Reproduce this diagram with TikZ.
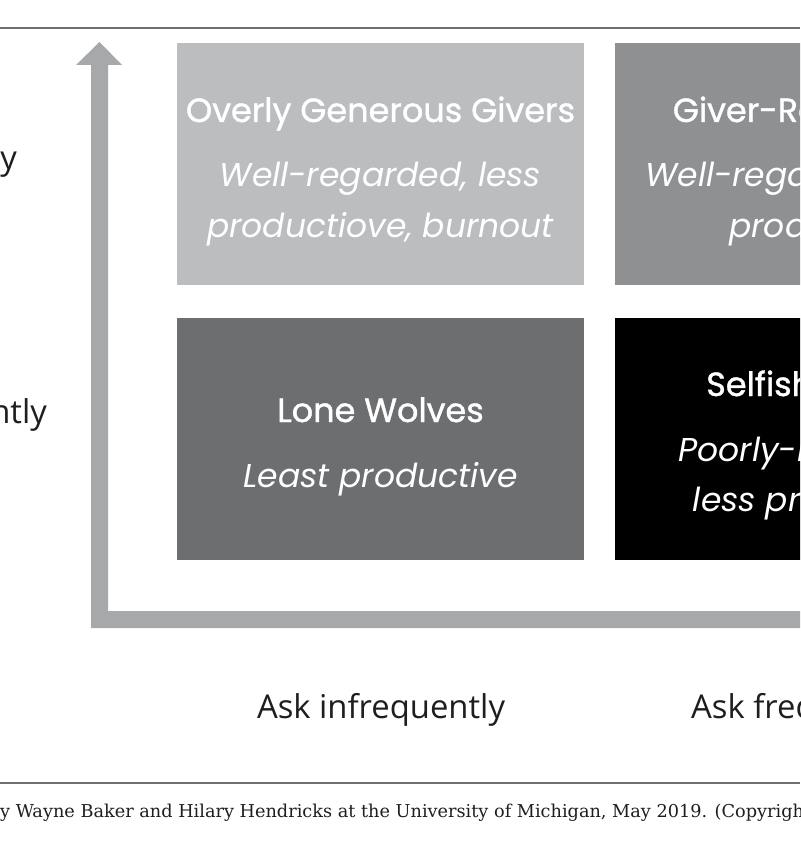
\documentclass[tikz,border=0pt]{standalone}
\usepackage{fontspec}
\setmainfont{Poppins}
\newfontfamily\titlefont[FakeBold=1.2]{Poppins}
\newfontfamily\labelfont{Open Sans}
\newfontfamily\capfont{DejaVu Serif}
\definecolor{cTL}{HTML}{BCBDBF}
\definecolor{cTR}{HTML}{8E9092}
\definecolor{cBL}{HTML}{6D6E70}
\definecolor{cBR}{HTML}{000000}
\definecolor{axisgray}{HTML}{A7A8AA}
\definecolor{rulegray}{HTML}{707070}
\definecolor{labeltext}{HTML}{1E1E1E}
\tikzset{
  quad/.style={draw=none, minimum width=407pt, minimum height=242pt, inner sep=0pt},
  qtitle/.style={text=white, anchor=base, inner sep=0pt, font=\titlefont\fontsize{33.5}{38}\selectfont},
  qdesc/.style={text=white, anchor=base, inner sep=0pt, font=\fontsize{33}{38}\selectfont\itshape},
  axlabel/.style={text=labeltext, inner sep=0pt, font=\labelfont\fontsize{32.8}{38}\selectfont},
  rule/.style={draw=rulegray, line width=2pt}
}
\begin{document}
\begin{tikzpicture}[x=1pt,y=-1pt]
\useasboundingbox (0,0) rectangle (800,866);
\clip (0,0) rectangle (800,866);
% rules
\coordinate (tl) at (0,28); \coordinate (tr) at (800,28);
\coordinate (bl) at (0,783); \coordinate (br) at (800,783);
\draw[rule] (tl) -- (tr);
\draw[rule] (bl) -- (br);
% axes
\coordinate (o) at (91,628);
\fill[axisgray] (o) -- (91,65) -- (76,65) -- (99.5,42) -- (122,65) -- (108,65) -- (108,611) -- (820,611) -- (820,628) -- cycle;
% quadrants
\node[quad, fill=cTL] (q1) at (380.5,164) {};
\node[quad, fill=cTR] (q2) at (818.5,164) {};
\node[quad, fill=cBL] (q3) at (380.5,438.5) {};
\node[quad, fill=cBR] (q4) at (818.5,438.5) {};
% texts
\node[qtitle] (t1) at (380.5,122) {Overly Generous Givers};
\node[qdesc] (d1a) at (380.5,187) {Well-regarded, less};
\node[qdesc] (d1b) at (380.5,238) {productiove, burnout};
\node[qtitle] (t2) at (818.5,122) {Giver-Requesters};
\node[qdesc] (d2a) at (818.5,187) {Well-regarded, more};
\node[qdesc] (d2b) at (818.5,238) {productive};
\node[qtitle] (t3) at (380.5,422) {Lone Wolves};
\node[qdesc] (d3) at (380.5,487) {Least productive};
\node[qtitle] (t4) at (818.5,396) {Selfish Takers};
\node[qdesc] (d4a) at (818.5,461) {Poorly-regarded,};
\node[qdesc] (d4b) at (818.5,511) {less productive};
% axis labels
\node[axlabel, anchor=base] (ax1) at (381,718) {Ask infrequently};
\node[axlabel, anchor=base west] (ax2) at (691,718) {Ask frequently};
\node[axlabel, anchor=base east] (ay1) at (17,170) {Give frequently};
\node[axlabel, anchor=base east] (ay2) at (47,423) {Give infrequently};
% caption
\node[text=labeltext, anchor=base west, inner sep=0pt, font=\capfont\fontsize{17.7}{21}\selectfont] (cap) at (0,817) {\llap{b}y Wayne Baker and Hilary Hendricks at the University of Michigan, May 2019. (Copyright};
\end{tikzpicture}
\end{document}
